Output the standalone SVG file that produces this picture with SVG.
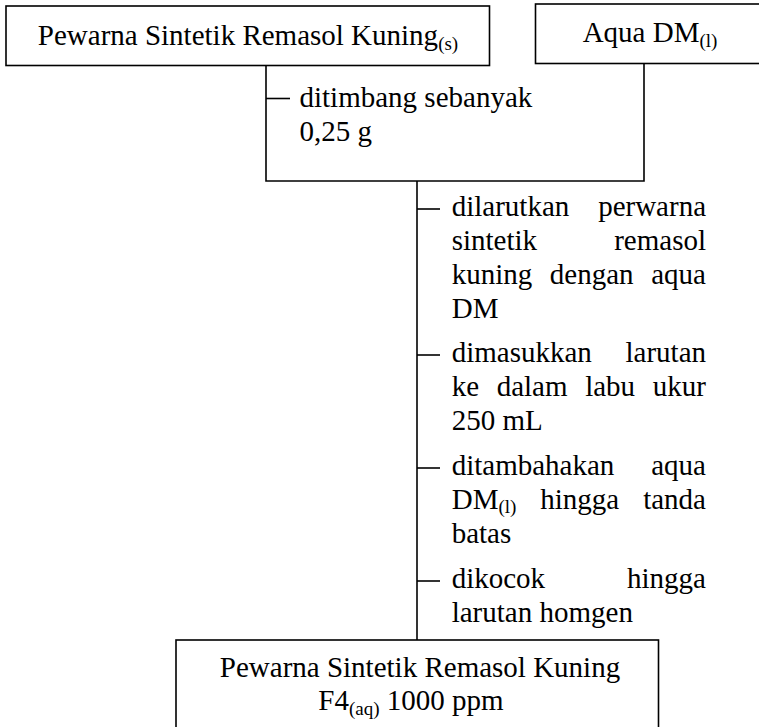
<svg xmlns="http://www.w3.org/2000/svg" width="759" height="727" viewBox="0 0 759 727">
<style>
text{font-family:"Liberation Serif","Times New Roman",serif;font-size:29px;fill:#000}
.m{text-anchor:middle}
.e{text-anchor:end}
.sub{font-size:19px}
.box{fill:#fff;stroke:#000;stroke-width:1.6}
.ln{stroke:#000;stroke-width:1.6;fill:none}
</style>
<rect width="759" height="727" fill="#fff"/>
<g id="connectors">
<polyline class="ln" points="266,66 266,181 644,181 644,63.5"/>
<line class="ln" x1="417" y1="181" x2="417" y2="640"/>
<line class="ln" x1="266" y1="98.5" x2="290" y2="98.5"/>
<line class="ln" x1="417" y1="209" x2="440" y2="209"/>
<line class="ln" x1="417" y1="355" x2="440" y2="355"/>
<line class="ln" x1="417" y1="468" x2="440" y2="468"/>
<line class="ln" x1="417" y1="581" x2="440" y2="581"/>
</g>
<g id="node-remasol">
<rect class="box" x="6" y="6" width="483.5" height="59.5"/>
<text class="m" x="248" y="45">Pewarna Sintetik Remasol Kuning<tspan class="sub" dy="5">(s)</tspan></text>
</g>
<g id="node-aqua">
<rect class="box" x="535.5" y="4" width="240" height="59.5"/>
<text class="m" x="650" y="42">Aqua DM<tspan class="sub" dy="5">(l)</tspan></text>
</g>
<g id="step-timbang">
<text x="299.5" y="106.5">ditimbang sebanyak</text>
<text x="299.5" y="140.5">0,25 g</text>
</g>
<g id="step-larut">
<text x="451.7" y="216">dilarutkan</text><text class="e" x="706" y="216">perwarna</text>
<text x="451.7" y="250">sintetik</text><text class="e" x="706" y="250">remasol</text>
<text x="451.7" y="284">kuning</text><text x="549.8" y="284">dengan</text><text class="e" x="706" y="284">aqua</text>
<text x="451.7" y="318">DM</text>
</g>
<g id="step-masuk">
<text x="451.7" y="362">dimasukkan</text><text class="e" x="706" y="362">larutan</text>
<text x="451.7" y="396">ke</text><text x="496.7" y="396">dalam</text><text x="585.2" y="396">labu</text><text class="e" x="706" y="396">ukur</text>
<text x="451.7" y="430">250 mL</text>
</g>
<g id="step-tambah">
<text x="451.7" y="475">ditambahakan</text><text class="e" x="706" y="475">aqua</text>
<text x="451.7" y="509">DM<tspan class="sub" dy="4">(l)</tspan></text><text x="540.3" y="509">hingga</text><text class="e" x="706" y="509">tanda</text>
<text x="451.7" y="543">batas</text>
</g>
<g id="step-kocok">
<text x="451.7" y="588">dikocok</text><text class="e" x="706" y="588">hingga</text>
<text x="451.7" y="622">larutan homgen</text>
</g>
<g id="node-hasil">
<rect class="box" x="176" y="640" width="482.5" height="110"/>
<text class="m" x="420" y="677">Pewarna Sintetik Remasol Kuning</text>
<text class="m" x="411" y="710">F4<tspan class="sub" dy="5">(aq)</tspan><tspan dy="-5"> 1000 ppm</tspan></text>
</g>
</svg>
